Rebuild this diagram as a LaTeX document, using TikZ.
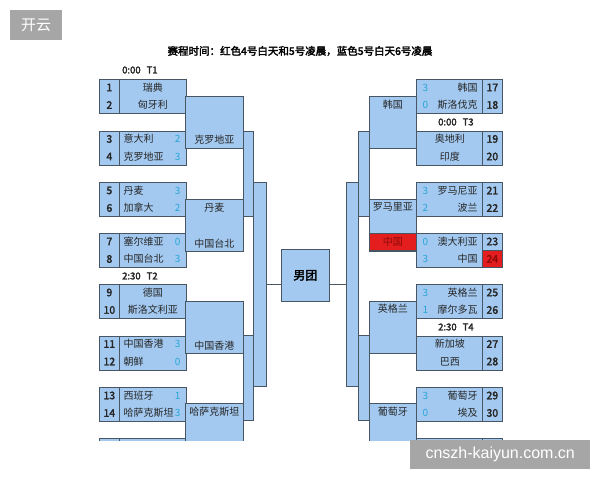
\documentclass[tikz,border=0pt]{standalone}
\usepackage{fontspec}
\setmainfont{Noto Sans CJK SC}[AutoFakeBold=2.5]
\newfontfamily\wmfont{Liberation Sans}
\usepackage{tikz}
\usetikzlibrary{positioning, calc}
\definecolor{cellblue}{RGB}{163,201,240}
\definecolor{edge}{RGB}{72,86,100}
\definecolor{score}{RGB}{40,165,215}
\definecolor{hot}{RGB}{228,30,30}
\definecolor{hotdark}{RGB}{140,10,10}
\definecolor{wmgray}{RGB}{166,166,166}

\begin{document}
\begin{tikzpicture}[x=1pt, y=-1pt,
    cell/.style={draw=edge, fill=cellblue, line width=0.7pt, inner sep=0pt, anchor=north west},
    numcell/.style={cell, minimum width=20pt, minimum height=34pt},
    namecell/.style={cell, minimum width=67pt, minimum height=34pt},
    txt/.style={font=\fontsize{10}{12}\selectfont, text=black!85, inner sep=0pt},
    seed/.style={txt, font=\fontsize{10.5}{12}\selectfont\bfseries},
    pts/.style={txt, text=score},
    slot/.style={font=\fontsize{9.5}{11}\selectfont\bfseries, text=black!85, inner sep=0pt, anchor=west},
    link/.style={draw=edge, line width=0.8pt},
    wm/.style={fill=wmgray, text=white, inner sep=0pt, anchor=north west}
  ]
  \useasboundingbox (0,0) rectangle (600,480);

  % Title
  \node[font=\fontsize{10.5}{12}\selectfont\bfseries] (title) at (300,51) {赛程时间：红色4号白天和5号凌晨，蓝色5号白天6号凌晨};

  \begin{scope}
    \clip (0,0) rectangle (600,440);

    % First round
    \foreach \i/\y in {1/79, 2/130.5, 3/182, 4/233, 5/284, 6/335.5, 7/387, 8/438} {
      \node[numcell]  (nL\i) at (99,\y) {};
      \node[namecell] (mL\i) at (119,\y) {};
      \node[namecell] (mR\i) at (416,\y) {};
      \node[numcell]  (nR\i) at (482,\y) {};
    }
    \foreach \i [evaluate=\i as \na using int(2*\i-1), evaluate=\i as \nb using int(2*\i),
        evaluate=\i as \ra using int(2*\i+15), evaluate=\i as \rb using int(2*\i+16)] in {1,...,7} {
      \node[seed] (sL\na) at ([yshift=-8.5pt]nL\i.north) {\na};
      \node[seed] (sL\nb) at ([yshift=-26pt]nL\i.north) {\nb};
      \node[seed] (sR\ra) at ([yshift=-8.5pt]nR\i.north) {\ra};
      \node[seed] (sR\rb) at ([yshift=-26pt]nR\i.north) {\rb};
    }

    % Teams, no result
    \foreach \i/\ta/\tb in {1/瑞典/匈牙利, 5/德国/斯洛文利亚} {
      \node[txt] (tL\i a) at ([yshift=-8.5pt]mL\i.north) {\ta};
      \node[txt] (tL\i b) at ([yshift=-26pt]mL\i.north) {\tb};
    }
    \foreach \i/\ta/\tb in {2/奥地利/印度, 6/新加坡/巴西} {
      \node[txt] (tR\i a) at ([yshift=-8.5pt]mR\i.north) {\ta};
      \node[txt] (tR\i b) at ([yshift=-26pt]mR\i.north) {\tb};
    }

    % Teams with scores
    \foreach \i/\ta/\tb/\pa/\pb in {2/意大利/克罗地亚/2/3, 3/丹麦/加拿大/3/2, 4/塞尔维亚/中国台北/0/3,
        6/中国香港/朝鲜/3/0, 7/西班牙/哈萨克斯坦/1/3} {
      \node[txt, anchor=west] (tL\i a) at ([xshift=4.5pt, yshift=-8.5pt]mL\i.north west) {\ta};
      \node[txt, anchor=west] (tL\i b) at ([xshift=4.5pt, yshift=-26pt]mL\i.north west) {\tb};
      \node[pts] (pL\i a) at ([xshift=-9pt, yshift=-8.5pt]mL\i.north east) {\pa};
      \node[pts] (pL\i b) at ([xshift=-9pt, yshift=-26pt]mL\i.north east) {\pb};
    }
    \foreach \i/\ta/\tb/\pa/\pb in {1/韩国/斯洛伐克/3/0, 3/罗马尼亚/波兰/3/2, 4/澳大利亚/中国/0/3,
        5/英格兰/摩尔多瓦/3/1, 7/葡萄牙/埃及/3/0} {
      \node[txt, anchor=east] (tR\i a) at ([xshift=-6pt, yshift=-8.5pt]mR\i.north east) {\ta};
      \node[txt, anchor=east] (tR\i b) at ([xshift=-6pt, yshift=-26pt]mR\i.north east) {\tb};
      \node[pts] (pR\i a) at ([xshift=9.5pt, yshift=-8.5pt]mR\i.north west) {\pa};
      \node[pts] (pR\i b) at ([xshift=9.5pt, yshift=-26pt]mR\i.north west) {\pb};
    }
    \node[cell, fill=hot, minimum width=20pt, minimum height=17pt] (n24) at (482,250) {};
    \node[seed, text=hotdark] (s24) at (n24) {24};

    % Later rounds
    \foreach \k/\y in {1/96, 2/199, 3/301, 4/403} {
      \node[cell, minimum width=58pt, minimum height=52pt] (wL\k) at (185,\y) {};
      \node[cell, minimum width=47pt, minimum height=52pt] (wR\k) at (369,\y) {};
    }
    \foreach \k/\y in {1/131, 2/335} {
      \node[cell, minimum width=10pt, minimum height=85pt] (hL\k) at (243,\y) {};
      \node[cell, minimum width=11pt, minimum height=85pt] (hR\k) at (358,\y) {};
    }
    \node[cell, minimum width=13pt, minimum height=204pt] (qL) at (253,182) {};
    \node[cell, minimum width=12pt, minimum height=204pt] (qR) at (346,182) {};
    \node[cell, fill=hot, minimum width=47pt, minimum height=17pt] (cn) at (369,233) {};

    % Winners
    \node[txt] (vL1) at ([yshift=9pt]wL1.south) {克罗地亚};
    \node[txt] (vL2) at ([yshift=-9pt]wL2.north) {丹麦};
    \node[txt] (vL3) at ([yshift=8pt]wL2.south) {中国台北};
    \node[txt] (vL4) at ([yshift=8pt]wL3.south) {中国香港};
    \node[txt] (vL5) at ([yshift=-9pt]wL4.north) {哈萨克斯坦};
    \node[txt] (vR1) at ([yshift=-9pt]wR1.north) {韩国};
    \node[txt] (vR2) at ([yshift=-8pt]wR2.north) {罗马里亚};
    \node[txt, text=hotdark] (vR3) at (cn) {中国};
    \node[txt] (vR4) at ([yshift=-8pt]wR3.north) {英格兰};
    \node[txt] (vR5) at ([yshift=-9pt]wR4.north) {葡萄牙};

    % Session labels
    \node[slot] (t1) at (122,70) {0:00\hspace{6pt}T1};
    \node[slot] (t2) at (122,276) {2:30\hspace{6pt}T2};
    \node[slot] (t3) at (438,122) {0:00\hspace{6pt}T3};
    \node[slot] (t4) at (438,327) {2:30\hspace{6pt}T4};
  \end{scope}

  % Final
  \node[cell, minimum width=48pt, minimum height=52pt, font=\fontsize{12}{14}\selectfont\bfseries] (ctr) at (281,249) {男团};
  \coordinate (jL) at ([yshift=-9pt]ctr.west);
  \coordinate (jR) at ([yshift=-9pt]ctr.east);
  \draw[link] (jL) -- (jL -| qL.east);
  \draw[link] (jR) -- (jR -| qR.west);

  % Watermarks
  \node[wm, minimum width=52pt, minimum height=30pt, font=\fontsize{15}{16}\selectfont] (wmA) at (10,10) {开云};
  \node[wm, minimum width=180pt, minimum height=29pt, font=\wmfont\fontsize{16}{18}\selectfont] (wmB) at (410,440) {cnszh-kaiyun.com.cn};
\end{tikzpicture}
\end{document}
